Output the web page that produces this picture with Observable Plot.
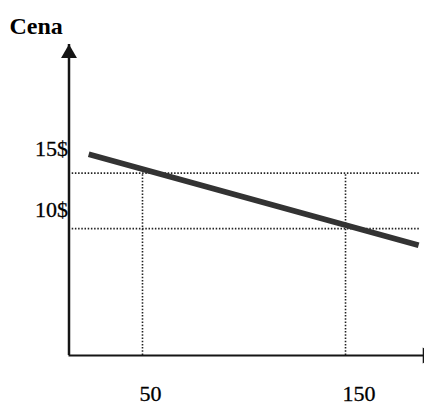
<!DOCTYPE html>
<html>
<head>
<meta charset="utf-8">
<script src="https://cdn.jsdelivr.net/npm/d3@7"></script>
<script src="https://cdn.jsdelivr.net/npm/@observablehq/plot@0.6"></script>
<style>
  html, body { margin: 0; padding: 0; background: #fff; }
  svg { display: block; }
</style>
</head>
<body>
<div id="chart"></div>
<script>
// Data
const quantities = [50, 150];          // marked quantities (x)
const prices = [15, 10];               // marked prices (y)
const priceLabels = ["15$", "10$"];
const qtyLabels = ["50", "150"];
const demandQ = [23.5, 186];           // demand line endpoints (quantity)
const demandP = [16.7, 8.5];           // demand line endpoints (price)
const axisQ = [13.8, 188.9];           // visible quantity range of the axes
const axisP = [-1.44, 26.6];           // visible price range of the axes
const guideEndQ = 187;                 // where horizontal guides stop
const yTitle = "Cena";

const demand = demandQ.map((q, i) => ({q, p: demandP[i]}));
const guideTop = Math.max(...prices);
const serif = "'Liberation Serif', 'DejaVu Serif', serif";
const ink = "#151515";

const chart = Plot.plot({
  width: 424,
  height: 405,
  marginLeft: 68.5,
  marginRight: 0,
  marginTop: 44,
  marginBottom: 50,
  style: {background: "#fff"},
  x: {domain: axisQ, axis: null},
  y: {domain: axisP, axis: null},
  marks: [
    // dotted horizontal guides
    Plot.ruleY(prices, {x1: () => axisQ[0], x2: () => guideEndQ, stroke: "#222", strokeWidth: 1.6, strokeDasharray: "1.5 1.7"}),
    // dotted vertical guides
    Plot.ruleX(quantities, {y1: () => axisP[0], y2: () => guideTop, stroke: "#222", strokeWidth: 1.6, strokeDasharray: "1.5 1.7"}),
    // demand line
    Plot.line(demand, {x: "q", y: "p", stroke: "#333", strokeWidth: 5.8, strokeLinecap: "butt"}),
    // axes
    Plot.ruleX([axisQ[0]], {y1: () => axisP[0], y2: () => axisP[1], stroke: ink, strokeWidth: 2.5}),
    Plot.ruleY([axisP[0]], {x1: () => axisQ[0], x2: () => axisQ[1], stroke: ink, strokeWidth: 2}),
    // arrowheads
    Plot.dot([0], {x: () => axisQ[0], y: () => axisP[1], symbol: "triangle", r: 5.9, fill: ink, stroke: "none", dy: 9}),
    Plot.dot([0], {x: () => axisQ[1], y: () => axisP[0], symbol: "triangle", r: 5.9, fill: ink, stroke: "none", rotate: 90, dx: 2.8}),
    // price labels
    Plot.text([0], {x: () => axisQ[0], y: () => prices[0], text: () => priceLabels[0], textAnchor: "end", lineAnchor: "bottom", dx: -1, dy: -17, fontSize: 22, fontFamily: serif, fill: "#000", stroke: "#000", strokeWidth: 0.3}),
    Plot.text([0], {x: () => axisQ[0], y: () => prices[1], text: () => priceLabels[1], textAnchor: "end", lineAnchor: "bottom", dx: -1, dy: -11.5, fontSize: 22, fontFamily: serif, fill: "#000", stroke: "#000", strokeWidth: 0.3}),
    // quantity labels
    Plot.text(quantities, {x: d => d, y: () => axisP[0], text: (d, i) => qtyLabels[i], textAnchor: "start", lineAnchor: "bottom", dx: -3, dy: 45, fontSize: 22, fontFamily: serif, fill: "#000", stroke: "#000", strokeWidth: 0.3}),
    // axis title
    Plot.text([yTitle], {x: () => axisQ[0], y: () => axisP[1], text: d => d, textAnchor: "start", lineAnchor: "bottom", dx: -59.5, dy: -11, fontSize: 24, fontWeight: "bold", fontFamily: serif, fill: "#000"})
  ]
});
document.getElementById("chart").appendChild(chart);
</script>
</body>
</html>
